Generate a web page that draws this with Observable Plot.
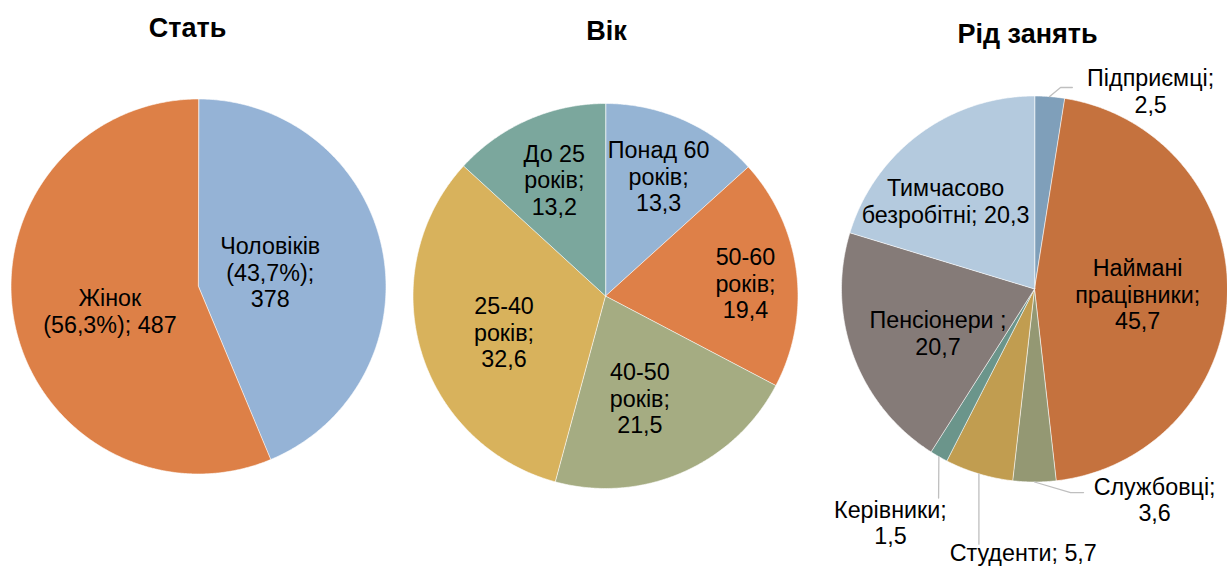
<!DOCTYPE html>
<html><head><meta charset="utf-8">
<script src="https://cdn.jsdelivr.net/npm/d3@7"></script>
<script src="https://cdn.jsdelivr.net/npm/@observablehq/plot@0.6"></script>
<style>
body{margin:0;background:#fff;}
#wrap{position:relative;width:1227px;height:567px;display:flex;font-family:"Liberation Sans",Arial,sans-serif;}
#wrap svg{display:block;overflow:visible}
</style></head><body><div id="wrap"></div>
<script>
// ---- data ----
const sexTitle = "Стать";
const sexNames = ["Чоловіків", "Жінок"];
const sexCounts = [378, 487];
const sexShares = [43.7, 56.3];
const sexColors = ["#95B3D6", "#DD8047"];

const ageTitle = "Вік";
const ageGroups = ["Понад 60", "50-60", "40-50", "25-40", "До 25"];
const ageShares = [13.3, 19.4, 21.5, 32.6, 13.2];
const ageColors = ["#95B4D4", "#DE8048", "#A5AC82", "#D8B25C", "#7BA79D"];

const occTitle = "Рід занять";
const occNames = ["Підприємці", "Наймані працівники", "Службовці", "Студенти", "Керівники", "Пенсіонери", "Тимчасово безробітні"];
const occShares = [2.5, 45.7, 3.6, 5.7, 1.5, 20.7, 20.3];
const occColors = ["#7F9FBA", "#C5723E", "#949873", "#C19D50", "#6B958B", "#857B78", "#B4CADE"];
const occWrapped = ["Підприємці;\n", "Наймані\nпрацівники;\n", "Службовці;\n", "Студенти; ", "Керівники;\n", "Пенсіонери ;\n", "Тимчасово\nбезробітні; "];

const fmt = v => v.toFixed(1).replace(".", ",");
const sexLabels = [
  `${sexNames[0]}\n(${fmt(sexShares[0])}%);\n${sexCounts[0]}`,
  `${sexNames[1]}\n(${fmt(sexShares[1])}%); ${sexCounts[1]}`
];
const ageLabels = ageGroups.map((g, i) => `${g}\nроків;\n${fmt(ageShares[i])}`);
const occLabels = occWrapped.map((w, i) => w + fmt(occShares[i]));

// ---- layout (label placement relative to slice mid-angle, in radius units) ----
const FONT = 23.3;
const sexPlace = [{k: 0.39, da: 0}, {k: 0.49, da: -4}];
const agePlace = [{k: 0.68, da: 0}, {k: 0.73, da: 2}, {k: 0.56, da: 5}, {k: 0.56, da: -3.5}, {k: 0.66, da: 0}];
const occPlace = [{k: 1.189, da: 25.9}, {k: 0.535, da: 1.7}, {k: 1.256, da: -29.7}, {k: 1.368, da: -14.3},
                  {k: 1.421, da: 2}, {k: 0.55, da: -4.3}, {k: 0.648, da: -8.8}];
const occLeaders = {
  "Підприємці": [[0.135, 1.044], [0.196, 1.044]],
  "Службовці": [[0.187, -1.055], [0.254, -1.055]],
  "Студенти": [[-0.288, -1.322]],
  "Керівники": [[-0.497, -1.083]]
};

function pie(names, values) {
  const arcs = d3.pie().sort(null).value(d => d)(values);
  const pts = [];
  arcs.forEach((a, i) => {
    const n = Math.max(2, Math.ceil((a.endAngle - a.startAngle) / (Math.PI / 360)));
    pts.push({name: names[i], x: 0, y: 0});
    for (let j = 0; j <= n; j++) {
      const t = a.startAngle + (a.endAngle - a.startAngle) * j / n;
      pts.push({name: names[i], x: Math.sin(t), y: Math.cos(t)});
    }
  });
  const mids = arcs.map(a => (a.startAngle + a.endAngle) / 2);
  return {pts, mids};
}

function makePie({title, names, values, colors, labels, place, leaders, width, cx, cy, r, titleDx, titleDy}) {
  const {pts, mids} = pie(names, values);
  const lab = labels.map((t, i) => {
    const a = mids[i] + place[i].da * Math.PI / 180;
    return {text: t, x: place[i].k * Math.sin(a), y: place[i].k * Math.cos(a)};
  });
  const lead = [];
  if (leaders) names.forEach((n, i) => {
    if (!leaders[n]) return;
    lead.push({name: n, x: Math.sin(mids[i]), y: Math.cos(mids[i])});
    leaders[n].forEach(([x, y]) => lead.push({name: n, x, y}));
  });
  return Plot.plot({
    width, height: 567, margin: 0,
    style: {fontFamily: '"Liberation Sans", Arial, sans-serif', background: "transparent", overflow: "visible"},
    x: {domain: [-1, 1], range: [cx - r, cx + r], axis: null},
    y: {domain: [-1, 1], range: [cy + r, cy - r], axis: null},
    color: {domain: names, range: colors},
    marks: [
      Plot.line(pts, {x: "x", y: "y", z: "name", fill: "name", stroke: "white", strokeWidth: 0.6, curve: "linear-closed"}),
      Plot.line(lead, {x: "x", y: "y", z: "name", stroke: "#BFBFBF", strokeWidth: 1.3}),
      Plot.text(lab, {x: "x", y: "y", text: "text", fontSize: FONT, lineHeight: 1.14, fill: "black"}),
      Plot.text([title], {frameAnchor: "top", dx: titleDx, dy: titleDy, fontSize: 27, fontWeight: "bold", fill: "black"})
    ]
  });
}

const wrap = document.getElementById("wrap");
wrap.append(makePie({title: sexTitle, names: sexNames, values: sexShares, colors: sexColors, labels: sexLabels,
  place: sexPlace, width: 410, cx: 198, cy: 286, r: 187.5, titleDx: -18, titleDy: 17}));
wrap.append(makePie({title: ageTitle, names: ageGroups, values: ageShares, colors: ageColors, labels: ageLabels,
  place: agePlace, width: 410, cx: 195, cy: 295.5, r: 192.5, titleDx: -9, titleDy: 20}));
wrap.append(makePie({title: occTitle, names: occNames, values: occShares, colors: occColors, labels: occLabels,
  place: occPlace, leaders: occLeaders, width: 407, cx: 214, cy: 288.5, r: 193, titleDx: 3.5, titleDy: 23}));
</script>
</body></html>
